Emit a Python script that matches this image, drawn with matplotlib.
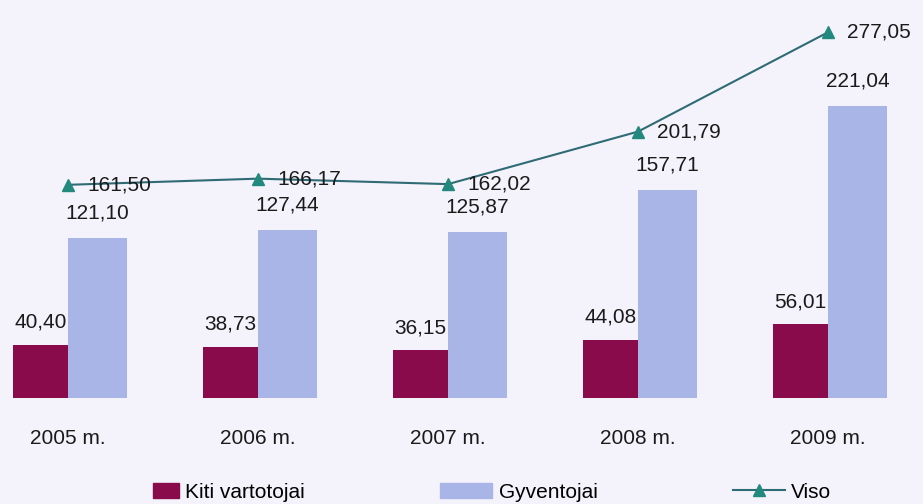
import matplotlib.pyplot as plt
import numpy as np
from matplotlib.patches import Patch, Rectangle
from matplotlib.lines import Line2D
from matplotlib.legend_handler import HandlerPatch

plt.rcParams['font.family'] = ['Liberation Sans', 'DejaVu Sans']

years = ['2005 m.', '2006 m.', '2007 m.', '2008 m.', '2009 m.']
kiti = [40.40, 38.73, 36.15, 44.08, 56.01]
gyventojai = [121.10, 127.44, 125.87, 157.71, 221.04]
viso = [161.50, 166.17, 162.02, 201.79, 277.05]

def lt(v):
    return f'{v:.2f}'.replace('.', ',')

bg = '#f4f3fb'
c_kiti = '#8a0b4c'
c_gyv = '#a9b5e6'
c_line = '#2f6b74'
c_mark = '#23897f'

fig = plt.figure(figsize=(9.23, 5.04), dpi=100, facecolor=bg)
ax = fig.add_axes([0, 0, 1, 1], facecolor=bg)

x = np.arange(len(years))
w1, w2 = 0.29, 0.31
ax.bar(x - w1, kiti, width=w1, align='edge', color=c_kiti)
ax.bar(x, gyventojai, width=w2, align='edge', color=c_gyv)
ax.plot(x, viso, color=c_line, lw=1.5, marker='^', ms=8,
        markerfacecolor=c_mark, markeredgecolor=c_mark)

fs = 15
for i in x:
    ax.text(i - w1 / 2, kiti[i] + 17, lt(kiti[i]), ha='center', va='center', fontsize=fs, color='#1a1a1a')
    ax.text(i + w2 / 2, gyventojai[i] + 19, lt(gyventojai[i]), ha='center', va='center', fontsize=fs, color='#1a1a1a')
    ax.text(i + 0.1, viso[i], lt(viso[i]), ha='left', va='center', fontsize=fs, color='#1a1a1a')
    ax.text(i, -31, years[i], ha='center', va='center', fontsize=15, color='#1a1a1a')

ax.set_xlim(-0.358, 4.5)
ax.set_ylim(-80.3, 301.5)
ax.axis('off')


# the maroon legend key is only half as wide as the blue one
def half_patch(legend, orig_handle, xdescent, ydescent, width, height, fontsize):
    return Rectangle((-xdescent + width / 2, -ydescent), width / 2, height)


handles = [Patch(color=c_kiti), Patch(color=c_gyv),
           Line2D([], [], color=c_line, lw=1.5, marker='^', ms=8,
                  markerfacecolor=c_mark, markeredgecolor=c_mark)]
fig.legend(handles, ['Kiti vartotojai', 'Gyventojai', 'Viso'], ncol=3,
           loc='center', bbox_to_anchor=(479 / 923, 12 / 504), frameon=False,
           fontsize=15, handlelength=2.5, handleheight=0.7, handletextpad=0.3,
           columnspacing=6.5,
           handler_map={handles[0]: HandlerPatch(patch_func=half_patch)})

fig.savefig('out.png', dpi=100, facecolor=bg)
